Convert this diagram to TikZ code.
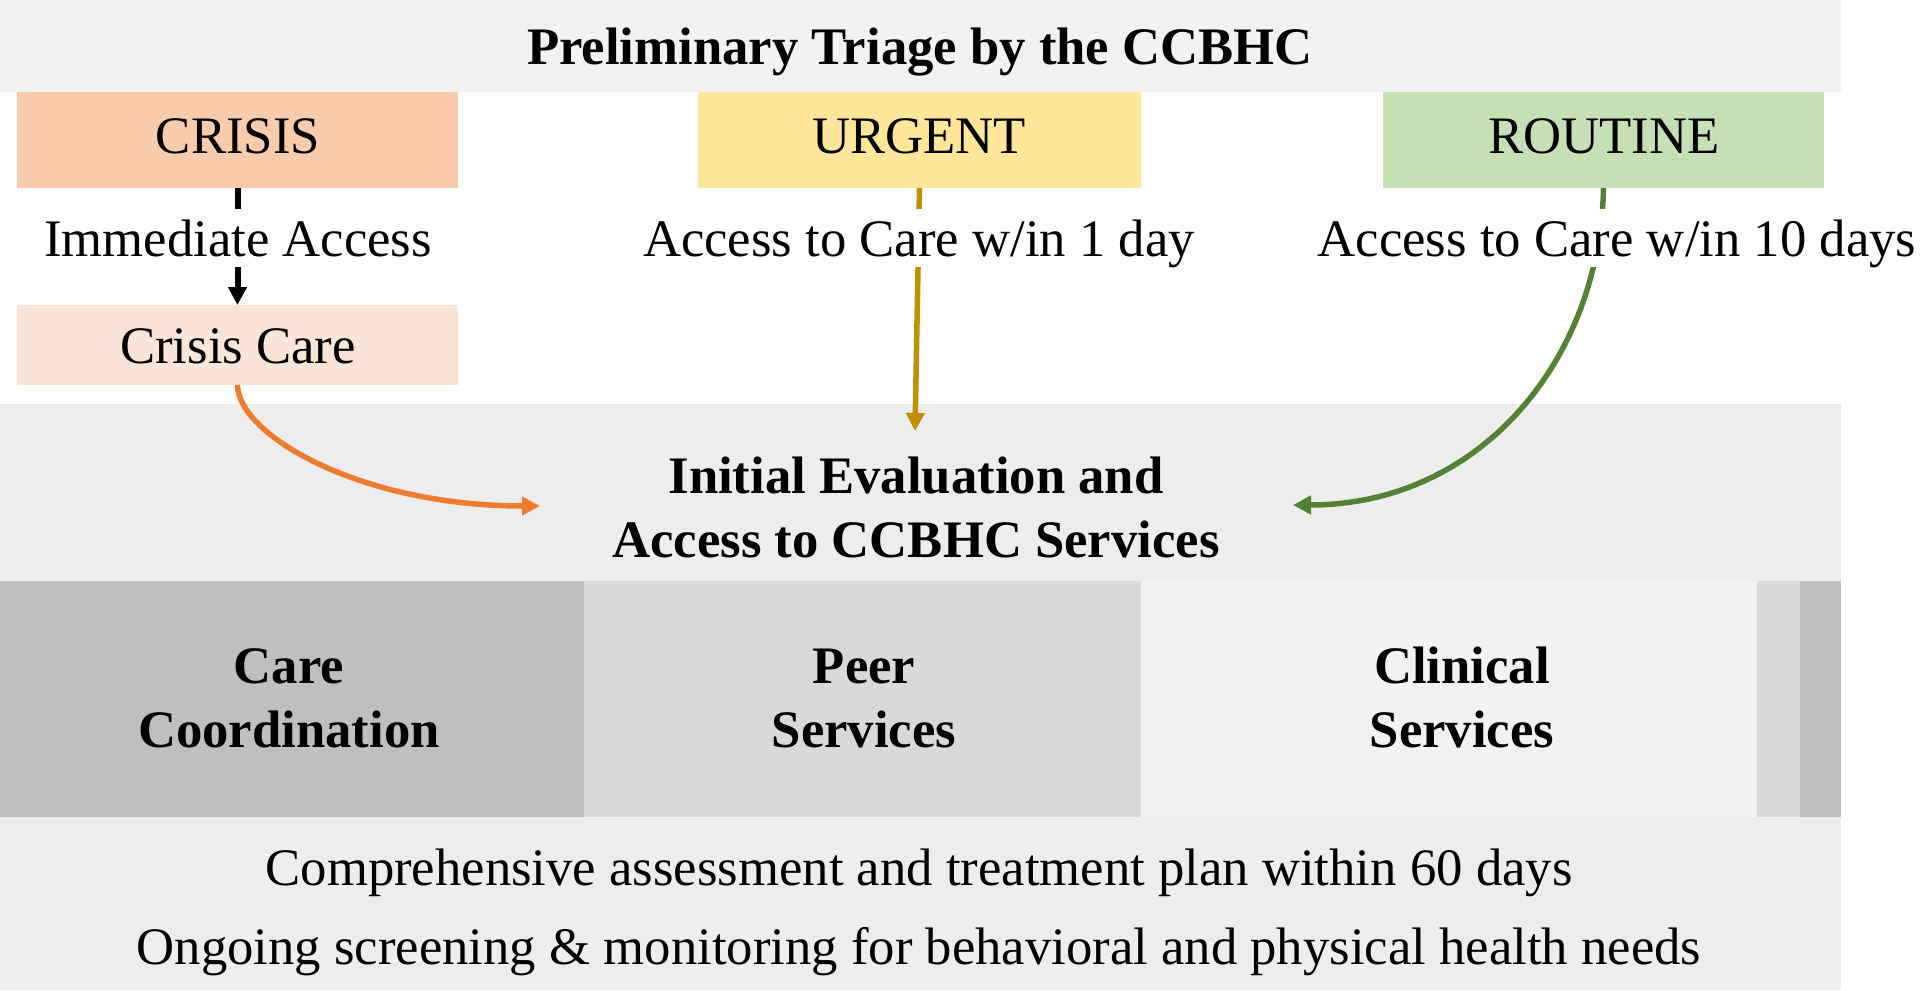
\documentclass[tikz,border=0pt]{standalone}
\usepackage{fontspec}
\setmainfont{Liberation Serif}
\usetikzlibrary{arrows.meta}
\definecolor{topbar}{HTML}{F2F2F2}
\definecolor{band}{HTML}{EDEDED}
\definecolor{crisisfill}{HTML}{F8CBAD}
\definecolor{crisiscarefill}{HTML}{FBE5D6}
\definecolor{urgentfill}{HTML}{FFE699}
\definecolor{routinefill}{HTML}{C5E0B4}
\definecolor{gdark}{HTML}{BFBFBF}
\definecolor{gmid}{HTML}{D9D9D9}
\definecolor{glight}{HTML}{F2F2F2}
\definecolor{orangeline}{HTML}{ED7D31}
\definecolor{goldline}{HTML}{BF9000}
\definecolor{greenline}{HTML}{548235}
\begin{document}
\begin{tikzpicture}[x=1pt,y=-1pt,
  area/.style={draw=none,inner sep=0pt,outer sep=0pt,anchor=north west},
  txt/.style={font=\fontsize{52.7}{64}\selectfont,inner sep=0pt,anchor=base},
  btxt/.style={font=\fontsize{52.7}{64}\selectfont\bfseries,inner sep=0pt,anchor=base,align=center},
  lbl/.style={txt,fill=white,text height=47pt,text depth=11pt},
  arr/.style={line width=5.5pt,-{Triangle[length=18pt,width=18pt]}}
]
\useasboundingbox (0,0) rectangle (1921,990);
% bands
\node[area,fill=topbar,minimum width=1841pt,minimum height=92pt] (top) at (0,0) {};
\node[area,fill=band,minimum width=1841pt,minimum height=177pt] (eval) at (0,404) {};
\node[area,fill=gdark,minimum width=584pt,minimum height=236pt] (cc) at (0,581) {};
\node[area,fill=gmid,minimum width=557pt,minimum height=236pt] (peer) at (584,581) {};
\node[area,fill=glight,minimum width=616pt,minimum height=236pt] (clin) at (1141,581) {};
\node[area,fill=gmid,minimum width=43pt,minimum height=236pt] (s4) at (1757,581) {};
\node[area,fill=gdark,minimum width=41pt,minimum height=236pt] (s5) at (1800,581) {};
\node[area,fill=band,minimum width=1841pt,minimum height=173pt] (bottom) at (0,817) {};
% triage boxes
\node[area,fill=crisisfill,minimum width=441pt,minimum height=96pt] (crisis) at (17,92) {};
\node[area,fill=urgentfill,minimum width=443pt,minimum height=96pt] (urgent) at (698,92) {};
\node[area,fill=routinefill,minimum width=441pt,minimum height=96pt] (routine) at (1383,92) {};
\node[area,fill=crisiscarefill,minimum width=441pt,minimum height=80pt] (crisiscare) at (17,305) {};
% connectors
\coordinate (urgentEnd) at (915,431);
\coordinate (orangeEnd) at (540,506);
\coordinate (greenEnd) at (1293,505);
\draw[arr,black,line width=6pt] (crisis.south) -- (crisiscare.north);
\draw[arr,goldline] (urgent.south) -- (urgentEnd);
\draw[arr,orangeline] (crisiscare.south) .. controls (238,435) and (360,506) .. (orangeEnd);
\draw[arr,greenline] (routine.south) .. controls (1600,360) and (1480,505) .. (greenEnd);
% texts
\node[btxt] (title) at (920,64) {Preliminary Triage by the CCBHC};
\node[txt] (tcrisis) at (238,153) {CRISIS};
\node[txt] (turgent) at (919,153) {URGENT};
\node[txt] (troutine) at (1604,153) {ROUTINE};
\node[lbl] (limm) at (238,256) {Immediate Access};
\node[lbl] (l1day) at (919,256) {Access to Care w/in 1 day};
\node[lbl] (l10day) at (1617,256) {Access to Care w/in 10 days};
\node[txt] (tcrisiscare) at (238,363) {Crisis Care};
\node[btxt] (teval1) at (916,493) {Initial Evaluation and};
\node[btxt] (teval2) at (916,557) {Access to CCBHC Services};
\node[btxt] (tcc1) at (289,683) {Care};
\node[btxt] (tcc2) at (289,747) {Coordination};
\node[btxt] (tpeer1) at (864,683) {Peer};
\node[btxt] (tpeer2) at (864,747) {Services};
\node[btxt] (tclin1) at (1462,683) {Clinical};
\node[btxt] (tclin2) at (1462,747) {Services};
\node[txt] (tb1) at (919,885) {Comprehensive assessment and treatment plan within 60 days};
\node[txt] (tb2) at (919,964) {Ongoing screening \& monitoring for behavioral and physical health needs};
\end{tikzpicture}
\end{document}
